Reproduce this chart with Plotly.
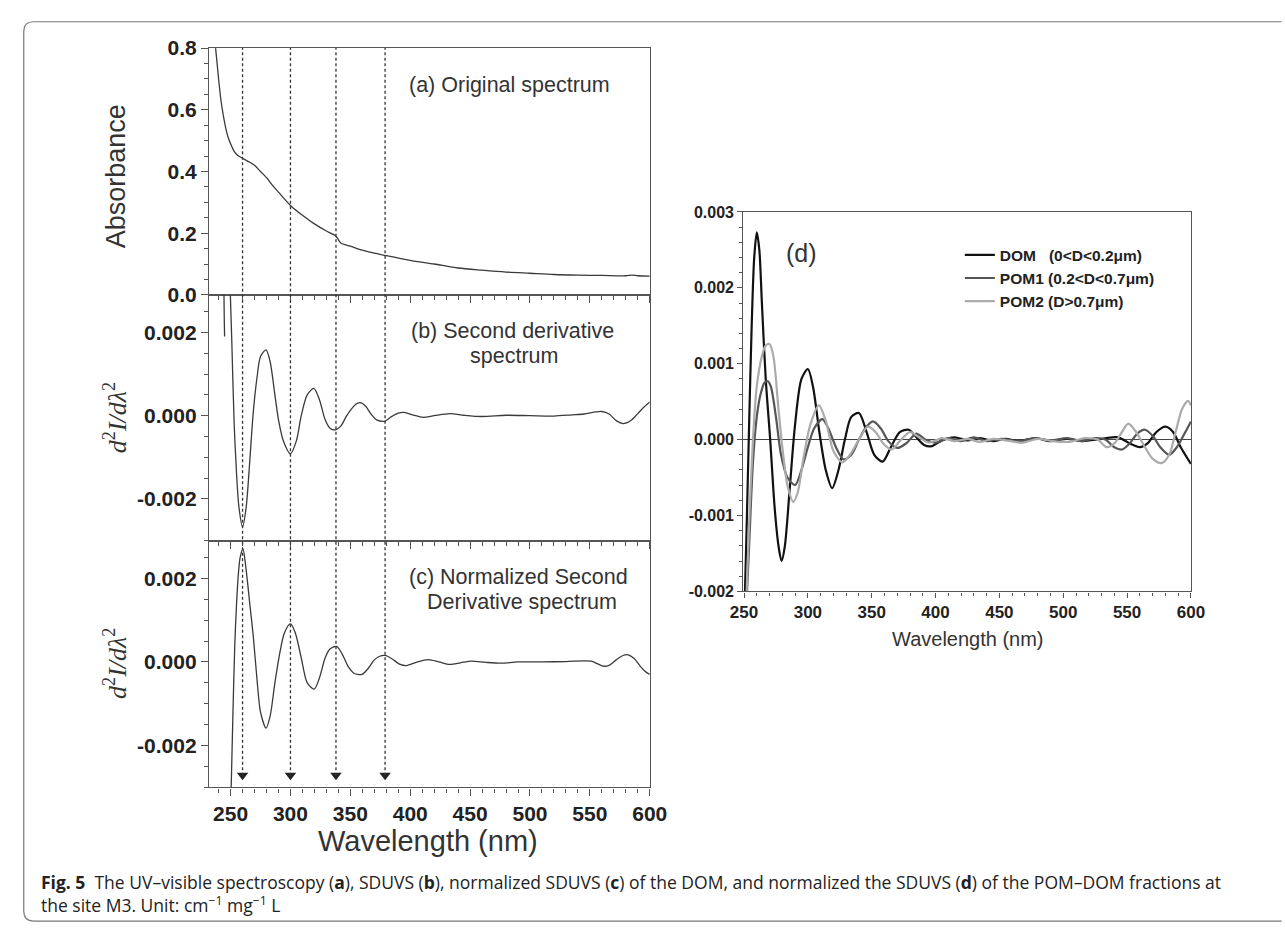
import plotly.graph_objects as go

# ---------------- data ----------------
wl_a = [237.5, 240, 242, 244, 246, 248, 250, 253, 256, 260, 265, 270, 275, 280, 285, 290, 300, 310,
        320, 330, 337, 339, 342, 350, 360, 370, 380, 400, 420, 440, 460, 480, 500, 520, 540, 560,
        580, 585, 590, 600]
abs_a = [0.80, 0.70, 0.63, 0.58, 0.54, 0.51, 0.49, 0.465, 0.452, 0.443, 0.432, 0.42, 0.40, 0.38,
         0.355, 0.333, 0.29, 0.258, 0.23, 0.207, 0.193, 0.185, 0.168, 0.158, 0.145, 0.135, 0.127,
         0.112, 0.10, 0.087, 0.080, 0.074, 0.070, 0.066, 0.064, 0.063, 0.062, 0.064, 0.062, 0.061]

wl_b = [245, 246.5, 248.5, 249.5, 251, 253, 255, 257, 260, 263, 266, 269, 272, 275, 279.6, 283, 287,
        290, 294, 300, 305, 309, 314, 319.5, 324, 329, 333, 337.6, 342, 347, 352, 356, 359, 363,
        367, 372, 379, 384, 390, 395, 402, 411, 420, 433, 445, 460, 480, 500, 520, 535, 545, 555,
        560, 566, 572, 578, 584, 590, 595, 600]
d2_b = [0.0019, 0.0045, 0.0045, 0.0032, 0.0018, -0.0002, -0.0014, -0.0022, -0.00267, -0.0022,
        -0.0011, 0.0001, 0.0009, 0.00142, 0.00158, 0.0013, 0.0005, -0.0001, -0.0006, -0.000915,
        -0.0006, 0.0, 0.0005, 0.000654, 0.0004, -0.0001, -0.0003, -0.00034, -0.00025, 0.0,
        0.0002, 0.0003, 0.00031, 0.00022, 0.00005, -0.0001, -0.00013, -0.00003, 0.00006, 0.00008,
        0.00002, -0.00004, 0.0, 0.00005, 0.00001, -0.00002, 0.00001, 0.0, -0.00001, 0.00002,
        0.00004, 0.00009, 0.0001, 0.00004, -0.00012, -0.00019, -0.00012, 0.00005, 0.0002, 0.00033]

wl_c = [249, 250.5, 252, 253.5, 255, 256.5, 258, 260.3, 263, 266, 269, 272, 275, 279.6, 283, 287,
        291, 295, 300, 304, 309, 314, 319.8, 324, 329, 333, 338.4, 343, 348, 353, 359.6, 365, 370,
        374, 379, 385, 391, 397, 405, 415, 424, 433, 442, 451, 463, 476, 490, 510, 530, 551, 556,
        561, 566, 572, 578, 582, 587, 592, 596, 600]
d2_c = [-0.0045, -0.003, -0.0012, 0.0004, 0.0014, 0.0021, 0.0025, 0.0027, 0.0022, 0.0014, 0.0006,
        -0.0004, -0.0012, -0.00158, -0.0013, -0.0005, 0.0002, 0.0007, 0.00091, 0.0007, 0.0001,
        -0.0005, -0.00065, -0.0004, 0.0001, 0.00031, 0.00037, 0.0002, -0.0001, -0.00027, -0.0003,
        -0.00015, 0.00005, 0.00013, 0.000156, 0.00007, -0.00005, -0.000086, -0.00001, 0.000055,
        0.0, -0.00006, -0.00002, 0.00002, -0.00001, -0.00003, 0.0, 0.0, 0.00001, 0.00002, -0.00004,
        -0.0001, -0.00008, 0.00005, 0.00016, 0.00017, 0.00008, -0.0001, -0.00022, -0.0003]

peak_wl = [260, 300, 338, 379]
arrow_level = -0.00271

wl_dom = [250, 252, 254, 256, 258, 260, 262, 264, 267, 270.5, 274, 277, 279.4, 282, 286, 290, 295,
          300, 304, 309, 314, 319, 324, 329, 334, 340, 346, 352, 358.6, 365, 372, 379, 385, 391,
          397, 405, 415, 425, 435, 445, 455, 465, 478, 490, 503, 515, 530, 543, 552, 560, 566,
          573, 580, 586, 592, 600]
dom = [-0.0025, -0.0012, 0.0002, 0.0015, 0.0024, 0.00273, 0.0025, 0.0018, 0.0008, 0.0, -0.0009,
       -0.0014, -0.0016, -0.0014, -0.0006, 0.0002, 0.0008, 0.00093, 0.0007, 0.0001, -0.0004,
       -0.00064, -0.0004, 0.0, 0.0003, 0.00035, 0.0001, -0.0002, -0.00029, -0.0001, 0.0001,
       0.00013, 0.00003, -0.00007, -0.000086, -0.00001, 0.00003, -0.00001, 0.00002, -0.00002,
       0.00001, -0.00002, 0.00002, -0.00002, 0.00001, -0.00002, 0.00001, 0.00003, -0.00005,
       -0.0001, -0.00005, 0.0001, 0.00017, 0.0001, -0.0001, -0.00032]

wl_pom1 = [251, 254, 257, 260, 263, 266, 268.6, 271, 275, 279, 284, 290, 295, 300, 305, 311.4, 316,
           322, 328, 334, 340, 345, 351, 357, 363, 370, 377, 385, 392, 400, 410, 420, 430, 440,
           452, 465, 478, 490, 503, 515, 525, 533, 540, 546, 552, 558, 564, 570, 576, 583, 589,
           595, 600]
pom1 = [-0.0025, -0.0014, -0.0003, 0.0003, 0.0006, 0.00075, 0.00077, 0.0007, 0.0003, -0.0002,
        -0.0005, -0.0006, -0.0004, -0.0001, 0.00015, 0.00027, 0.00015, -0.0001, -0.00026, -0.0002,
        0.0, 0.00015, 0.00024, 0.00015, -0.00002, -0.00011, -0.00005, 0.00008, 0.0, -0.00004,
        0.00002, -0.00002, 0.00003, -0.00002, 0.00001, -0.00002, 0.00002, -0.00001, 0.00002,
        -0.00002, 0.00002, 0.0, -0.0001, -0.00013, -0.00005, 0.00008, 0.00013, 0.00005, -0.0001,
        -0.0002, -0.0001, 0.00008, 0.00024]

wl_pom2 = [251, 254, 257, 260, 264, 267, 270, 273, 277, 280, 284, 288.6, 292, 297, 302, 308.6, 314,
           320, 327, 333, 340, 347, 353, 359, 365.7, 372, 380, 387, 395, 405, 415, 425, 435, 445,
           455, 468, 480, 492, 505, 517, 527, 534, 540, 546, 551, 557, 564, 570, 577, 583, 588,
           593, 597.7, 600]
pom2 = [-0.0025, -0.0011, 0.0, 0.0007, 0.0011, 0.00124, 0.00126, 0.0011, 0.0004, -0.0001, -0.0006,
        -0.00082, -0.0007, -0.0002, 0.0002, 0.00045, 0.00025, -0.00015, -0.0003, -0.0002, 0.0,
        0.00017, 0.0001, -0.00005, -0.00013, -0.00002, 0.0001, 0.00003, -0.00004, 0.00002,
        -0.00002, 0.00001, -0.00003, 0.00001, -0.00001, -0.00004, 0.00001, -0.00002, -0.00003,
        0.00002, 0.0, -0.0001, -0.00005, 0.0001, 0.00021, 0.0001, -0.0001, -0.00025, -0.00031,
        -0.0002, 0.0001, 0.0004, 0.00051, 0.00045]

series_names = ["DOM\u00a0\u00a0\u00a0(0&lt;D&lt;0.2μm)", "POM1 (0.2&lt;D&lt;0.7μm)", "POM2 (D&gt;0.7μm)"]
series_colors = ["#111111", "#555555", "#ababab"]

ya_vals = [0.0, 0.2, 0.4, 0.6, 0.8]
ya_text = ["0.0", "0.2", "0.4", "0.6", "0.8"]
ybc_vals = [-0.002, 0.0, 0.002]
ybc_text = ["-0.002", "0.000", "0.002"]
yd_vals = [-0.002, -0.001, 0.0, 0.001, 0.002, 0.003]
yd_text = ["-0.002", "-0.001", "0.000", "0.001", "0.002", "0.003"]
x_vals = [250, 300, 350, 400, 450, 500, 550, 600]
x_text = [str(v) for v in x_vals]

# ---------------- layout helpers ----------------
W, H = 1285, 934
def fx(p):
    return p / W
def fy(p):
    return 1 - p / H

LINE = "#555555"
CURVE = "#3a3a3a"
SANS = "Liberation Sans, Arial, sans-serif"

fig = go.Figure()

spl = dict(shape="spline", smoothing=0.8)
fig.add_trace(go.Scatter(x=wl_a, y=abs_a, mode="lines", line=dict(color=CURVE, width=1.3, **spl),
                         xaxis="x", yaxis="y", showlegend=False, hoverinfo="skip"))
fig.add_trace(go.Scatter(x=wl_b, y=d2_b, mode="lines", line=dict(color=CURVE, width=1.3, **spl),
                         xaxis="x2", yaxis="y2", showlegend=False, hoverinfo="skip"))
fig.add_trace(go.Scatter(x=wl_c, y=d2_c, mode="lines", line=dict(color=CURVE, width=1.3, **spl),
                         xaxis="x3", yaxis="y3", showlegend=False, hoverinfo="skip"))
fig.add_trace(go.Scatter(x=peak_wl, y=[arrow_level] * len(peak_wl), mode="markers",
                         marker=dict(symbol="triangle-down", size=10, color="#222222"),
                         xaxis="x3", yaxis="y3", showlegend=False, hoverinfo="skip"))

for xs, ys, name, col, g in zip([wl_dom, wl_pom1, wl_pom2], [dom, pom1, pom2], series_names,
                                series_colors, ["g1", "g2", "g3"]):
    fig.add_trace(go.Scatter(x=xs, y=ys, mode="lines", name=name, legendgroup=g,
                             line=dict(color=col, width=2.2, **spl),
                             xaxis="x4", yaxis="y4", hoverinfo="skip"))

left_dom = [fx(200), fx(652)]

def xax(anchor, labels):
    return dict(domain=left_dom, anchor=anchor, range=[232, 600], showline=True, mirror=True,
                linecolor=LINE, linewidth=1.3, ticks="outside", ticklen=7, tickwidth=1.2,
                tickcolor=LINE, tickmode="array", tickvals=x_vals, ticktext=x_text,
                showticklabels=labels, showgrid=False, zeroline=False,
                tickfont=dict(family=SANS, size=21, color="#222", weight="bold"),
                minor=dict(tickmode="linear", tick0=250, dtick=10, ticks="outside", ticklen=4,
                           tickcolor=LINE, tickwidth=1, showgrid=False))

def yax(anchor, dom_, rng, vals, text, minor_dt):
    return dict(domain=dom_, anchor=anchor, range=rng, showline=True, mirror=True, linecolor=LINE,
                linewidth=1.3, ticks="outside", ticklen=7, tickwidth=1.2, tickcolor=LINE,
                tickmode="array", tickvals=vals, ticktext=text, showgrid=False, zeroline=False,
                tickfont=dict(family=SANS, size=21, color="#222", weight="bold"),
                minor=dict(tickmode="linear", tick0=0, dtick=minor_dt, ticks="outside", ticklen=4,
                           tickcolor=LINE, tickwidth=1, showgrid=False))

D_LEFT, D_RIGHT, D_TOP, D_BOT = 748, 1207, 205, 594

layout = dict(
    width=W, height=H, margin=dict(l=0, r=0, t=0, b=0), autosize=False,
    paper_bgcolor="white", plot_bgcolor="white",
    xaxis=xax("y", False), xaxis2=xax("y2", False), xaxis3=xax("y3", True),
    yaxis=yax("x", [fy(290), fy(37)], [0, 0.8], ya_vals, ya_text, 0.05),
    yaxis2=yax("x2", [fy(542), fy(290)], [-0.003, 0.0029], ybc_vals, ybc_text, 0.0005),
    yaxis3=yax("x3", [fy(795), fy(542)], [-0.003, 0.0029], ybc_vals, ybc_text, 0.0005),
    xaxis4=dict(domain=[fx(D_LEFT), fx(D_RIGHT)], anchor="y4", range=[249.5, 600], showline=True,
                mirror=True, linecolor=LINE, linewidth=1.3, ticks="outside", ticklen=5,
                tickcolor=LINE, tickmode="array", tickvals=x_vals, ticktext=x_text,
                showgrid=False, zeroline=False,
                tickfont=dict(family=SANS, size=17, color="#222", weight="bold"),
                minor=dict(tickmode="linear", tick0=250, dtick=10, ticks="outside", ticklen=3,
                           tickcolor=LINE, showgrid=False)),
    yaxis4=dict(domain=[fy(D_BOT), fy(D_TOP)], anchor="x4", range=[-0.002, 0.003], showline=True,
                mirror=True, linecolor=LINE, linewidth=1.3, ticks="outside", ticklen=5,
                tickcolor=LINE, tickmode="array", tickvals=yd_vals, ticktext=yd_text,
                showgrid=False, zeroline=True, zerolinecolor="#444", zerolinewidth=1.2,
                tickfont=dict(family=SANS, size=16, color="#222", weight="bold"),
                minor=dict(tickmode="linear", tick0=0, dtick=0.0002, ticks="outside", ticklen=3,
                           tickcolor=LINE, showgrid=False)),
    showlegend=True,
    legend=dict(x=fx(970), y=fy(232), xanchor="left", yanchor="top", bgcolor="rgba(0,0,0,0)",
                font=dict(family=SANS, size=15.5, color="#222", weight="bold"),
                tracegroupgap=0, itemwidth=30),
)
fig.update_layout(**layout)

shapes = []
for w in peak_wl:
    shapes.append(dict(type="line", xref="x3", yref="paper", x0=w, x1=w, y0=fy(783), y1=fy(37),
                       line=dict(color="#333", width=1.3, dash="3px,2.5px")))
border = (f"M {fx(1300)},{fy(10)} L {fx(20)},{fy(10)} Q {fx(10)},{fy(10)} {fx(10)},{fy(20)} "
          f"L {fx(10)},{fy(922)} Q {fx(10)},{fy(932)} {fx(20)},{fy(932)} L {fx(1300)},{fy(932)}")
shapes.append(dict(type="path", xref="paper", yref="paper", path=border,
                   line=dict(color="#777", width=1.2)))
fig.update_layout(shapes=shapes)

def ann(text, x, y, size, family=SANS, angle=0, xanchor="center", color="#333", weight="normal"):
    return dict(text=text, x=fx(x), y=fy(y), xref="paper", yref="paper", showarrow=False,
                xanchor=xanchor, yanchor="middle", textangle=angle,
                font=dict(family=family, size=size, color=color, weight=weight))

d2lab = "<i>d</i><sup>2</sup><i>I/dλ</i><sup>2</sup>"
SERIF = "Liberation Serif, Times New Roman, serif"
CAP = "Open Sans, sans-serif"
annots = [
    ann("(a) Original spectrum", 403, 75, 21.5, xanchor="left"),
    ann("(b) Second derivative", 405, 327, 21.5, xanchor="left"),
    ann("spectrum", 513, 353, 21.5),
    ann("(c) Normalized Second", 403, 579, 21.5, xanchor="left"),
    ann("Derivative spectrum", 521, 605, 21.5),
    ann("Absorbance", 104, 168, 27, angle=-90),
    ann(d2lab, 104, 416, 26, family=SERIF, angle=-90),
    ann(d2lab, 104, 668, 26, family=SERIF, angle=-90),
    ann("Wavelength (nm)", 425, 850, 29),
    ann("(d)", 808, 247, 25),
    ann("Wavelength (nm)", 978, 643, 20),
    ann("<b>Fig. 5</b>  The UV–visible spectroscopy (<b>a</b>), SDUVS (<b>b</b>), normalized SDUVS "
        "(<b>c</b>) of the DOM, and normalized the SDUVS (<b>d</b>) of the POM–DOM fractions at",
        26, 892, 17.5, family=CAP, xanchor="left", color="#222"),
    ann("the site M3. Unit: cm<sup>−1</sup> mg<sup>−1</sup> L", 26, 915, 17.5,
        family=CAP, xanchor="left", color="#222"),
]
fig.update_layout(annotations=annots)

fig.write_html("out.html")
